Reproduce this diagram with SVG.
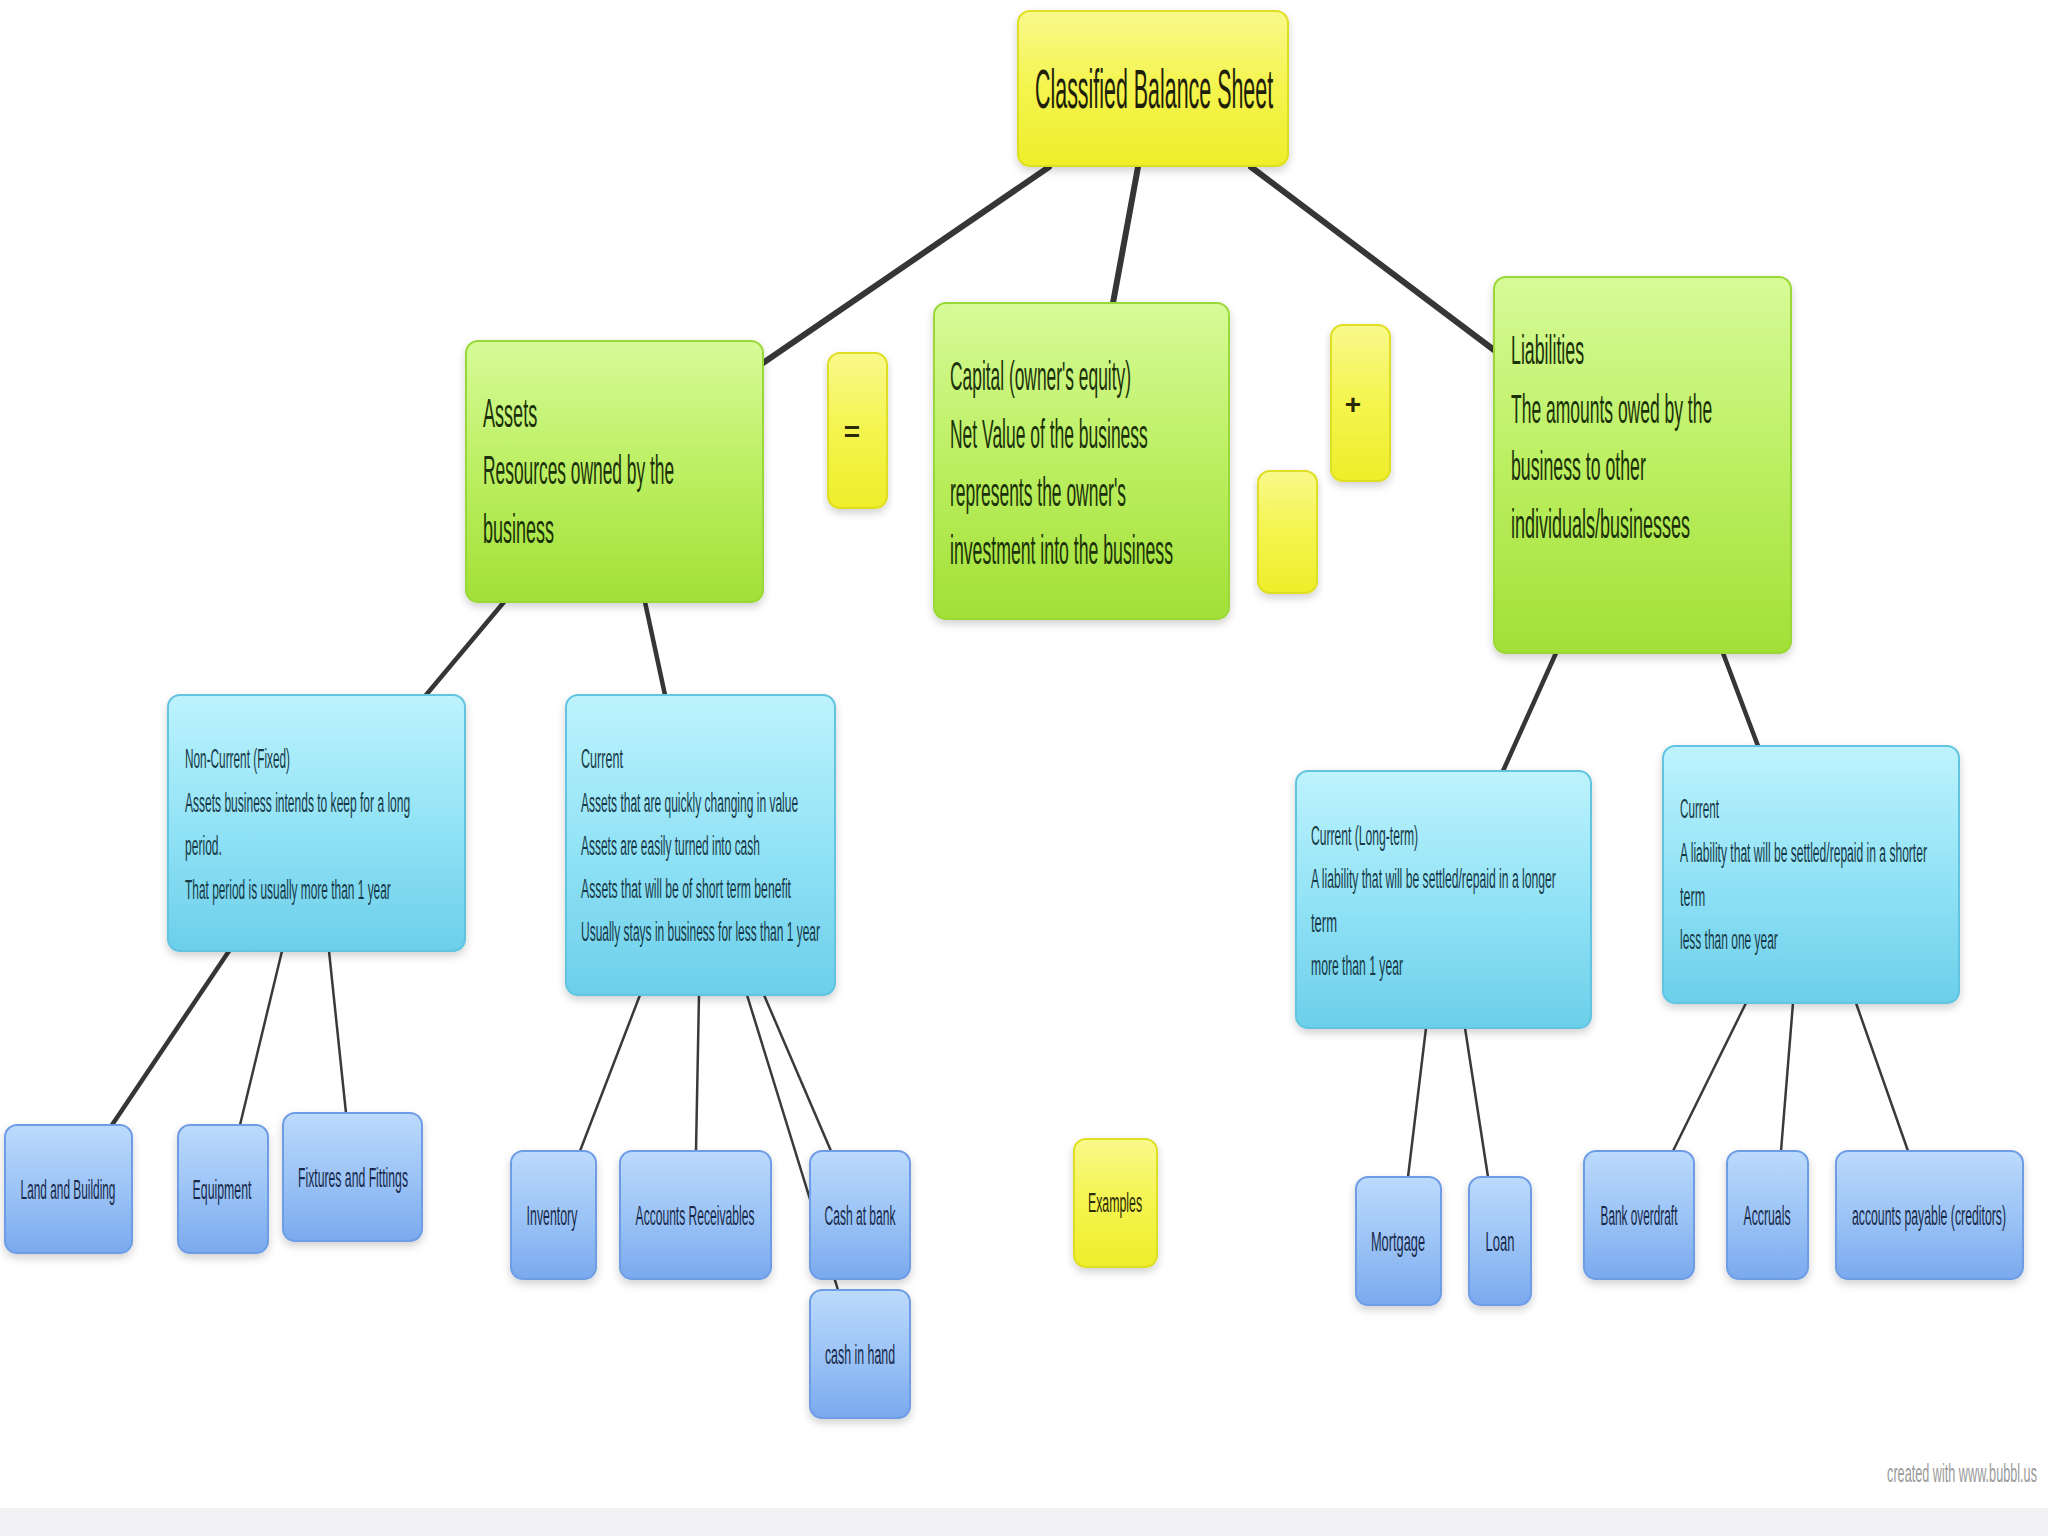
<svg xmlns="http://www.w3.org/2000/svg" width="2048" height="1536" viewBox="0 0 2048 1536">
<defs>
<linearGradient id="gY" x1="0" y1="0" x2="0" y2="1">
<stop offset="0" stop-color="#f9f98c"/><stop offset="0.5" stop-color="#f4f44e"/><stop offset="1" stop-color="#eeee2a"/>
</linearGradient>
<linearGradient id="gG" x1="0" y1="0" x2="0" y2="1">
<stop offset="0" stop-color="#d6fb98"/><stop offset="0.5" stop-color="#bcef62"/><stop offset="1" stop-color="#a2e036"/>
</linearGradient>
<linearGradient id="gC" x1="0" y1="0" x2="0" y2="1">
<stop offset="0" stop-color="#bdf3fd"/><stop offset="0.5" stop-color="#93e3f6"/><stop offset="1" stop-color="#6ccfea"/>
</linearGradient>
<linearGradient id="gB" x1="0" y1="0" x2="0" y2="1">
<stop offset="0" stop-color="#bcdafc"/><stop offset="0.5" stop-color="#9cc4f6"/><stop offset="1" stop-color="#7aa9ee"/>
</linearGradient>
<filter id="sh" x="-10%" y="-10%" width="120%" height="125%">
<feDropShadow dx="0" dy="4" stdDeviation="4" flood-color="#000" flood-opacity="0.18"/>
</filter>
</defs>
<style>
.y{fill:url(#gY);stroke:#dede20;stroke-width:2;filter:url(#sh)}
.g{fill:url(#gG);stroke:#9ad838;stroke-width:2;filter:url(#sh)}
.c{fill:url(#gC);stroke:#62c4e0;stroke-width:2;filter:url(#sh)}
.b{fill:url(#gB);stroke:#6e9de6;stroke-width:2;filter:url(#sh)}
text{font-family:"Liberation Sans",Arial,sans-serif}
.tt{font-size:55px;fill:#1f1f0a}
.tg{font-size:40px;fill:#1b3208}
.tc{font-size:28px;fill:#173a48}
.tb{font-size:28px;fill:#18294a;text-anchor:middle}
.ty{font-size:28px;fill:#2a2a08;text-anchor:middle}
.l1{stroke:#363636;stroke-width:6;stroke-linecap:round;fill:none}
.l2{stroke:#363636;stroke-width:4.5;stroke-linecap:round;fill:none}
.l3{stroke:#3a3a3a;stroke-width:2.5;stroke-linecap:round;fill:none}
</style>
<rect width="2048" height="1536" fill="#ffffff"/>
<rect x="0" y="1508" width="2048" height="28" fill="#f2f2f4"/>

<g id="connectors">
<line class="l1" x1="1049" y1="167" x2="763" y2="363"/>
<line class="l1" x1="1138" y1="167" x2="1113" y2="303"/>
<line class="l1" x1="1251" y1="167" x2="1494" y2="350"/>
<line class="l2" x1="504" y1="602" x2="426" y2="695"/>
<line class="l2" x1="645" y1="602" x2="665" y2="695"/>
<line class="l2" x1="1556" y1="653" x2="1503" y2="771"/>
<line class="l2" x1="1723" y1="653" x2="1758" y2="746"/>
<line class="l2" x1="229" y1="951" x2="112" y2="1125"/>
<line class="l3" x1="282" y1="951" x2="240" y2="1125"/>
<line class="l3" x1="329" y1="951" x2="346" y2="1113"/>
<line class="l3" x1="640" y1="995" x2="580" y2="1151"/>
<line class="l3" x1="699" y1="995" x2="696" y2="1151"/>
<line class="l3" x1="764" y1="995" x2="831" y2="1151"/>
<line class="l3" x1="747" y1="995" x2="838" y2="1290"/>
<line class="l3" x1="1426" y1="1028" x2="1408" y2="1177"/>
<line class="l3" x1="1465" y1="1028" x2="1488" y2="1177"/>
<line class="l3" x1="1746" y1="1003" x2="1673" y2="1151"/>
<line class="l3" x1="1793" y1="1003" x2="1781" y2="1151"/>
<line class="l3" x1="1856" y1="1003" x2="1908" y2="1151"/>
</g>

<g id="title">
<rect class="y" x="1018" y="11" width="270" height="155" rx="12"/>
<text class="tt" transform="matrix(0.42 0 0 1 1035 108)" textLength="567" lengthAdjust="spacingAndGlyphs">Classified Balance Sheet</text>
</g>

<g id="assets">
<rect class="g" x="466" y="341" width="297" height="261" rx="12"/>
<text class="tg" transform="matrix(0.42 0 0 1 483 427)" textLength="129" lengthAdjust="spacingAndGlyphs">Assets</text>
<text class="tg" transform="matrix(0.42 0 0 1 483 484)" textLength="455" lengthAdjust="spacingAndGlyphs">Resources owned by the</text>
<text class="tg" transform="matrix(0.42 0 0 1 483 543)" textLength="169" lengthAdjust="spacingAndGlyphs">business</text>
</g>

<g id="equals">
<rect class="y" x="828" y="353" width="59" height="155" rx="12"/>
<text class="ty" x="852" y="441" font-weight="bold">=</text>
</g>

<g id="capital">
<rect class="g" x="934" y="303" width="295" height="316" rx="12"/>
<text class="tg" transform="matrix(0.42 0 0 1 950 390)" textLength="431" lengthAdjust="spacingAndGlyphs">Capital (owner's equity)</text>
<text class="tg" transform="matrix(0.42 0 0 1 950 448)" textLength="471" lengthAdjust="spacingAndGlyphs">Net Value of the business</text>
<text class="tg" transform="matrix(0.42 0 0 1 950 506)" textLength="419" lengthAdjust="spacingAndGlyphs">represents the owner's</text>
<text class="tg" transform="matrix(0.42 0 0 1 950 564)" textLength="531" lengthAdjust="spacingAndGlyphs">investment into the business</text>
</g>

<g id="plus">
<rect class="y" x="1331" y="325" width="59" height="156" rx="12"/>
<text class="ty" x="1353" y="414" font-weight="bold">+</text>
</g>

<g id="blank">
<rect class="y" x="1258" y="471" width="59" height="122" rx="12"/>
</g>

<g id="liabilities">
<rect class="g" x="1494" y="277" width="297" height="376" rx="12"/>
<text class="tg" transform="matrix(0.42 0 0 1 1511 364)" textLength="174" lengthAdjust="spacingAndGlyphs">Liabilities</text>
<text class="tg" transform="matrix(0.42 0 0 1 1511 423)" textLength="479" lengthAdjust="spacingAndGlyphs">The amounts owed by the</text>
<text class="tg" transform="matrix(0.42 0 0 1 1511 480)" textLength="321" lengthAdjust="spacingAndGlyphs">business to other</text>
<text class="tg" transform="matrix(0.42 0 0 1 1511 538)" textLength="426" lengthAdjust="spacingAndGlyphs">individuals/businesses</text>
</g>

<g id="noncurrent">
<rect class="c" x="168" y="695" width="297" height="256" rx="12"/>
<text class="tc" transform="matrix(0.42 0 0 1 185 768)" textLength="250" lengthAdjust="spacingAndGlyphs">Non-Current (Fixed)</text>
<text class="tc" transform="matrix(0.42 0 0 1 185 812)" textLength="536" lengthAdjust="spacingAndGlyphs">Assets business intends to keep for a long</text>
<text class="tc" transform="matrix(0.42 0 0 1 185 855)" textLength="88" lengthAdjust="spacingAndGlyphs">period.</text>
<text class="tc" transform="matrix(0.42 0 0 1 185 899)" textLength="490" lengthAdjust="spacingAndGlyphs">That period is usually more than 1 year</text>
</g>

<g id="current-assets">
<rect class="c" x="566" y="695" width="269" height="300" rx="12"/>
<text class="tc" transform="matrix(0.42 0 0 1 581 768)" textLength="100" lengthAdjust="spacingAndGlyphs">Current</text>
<text class="tc" transform="matrix(0.42 0 0 1 581 812)" textLength="517" lengthAdjust="spacingAndGlyphs">Assets that are quickly changing in value</text>
<text class="tc" transform="matrix(0.42 0 0 1 581 855)" textLength="426" lengthAdjust="spacingAndGlyphs">Assets are easily turned into cash</text>
<text class="tc" transform="matrix(0.42 0 0 1 581 898)" textLength="500" lengthAdjust="spacingAndGlyphs">Assets that will be of short term benefit</text>
<text class="tc" transform="matrix(0.42 0 0 1 581 941)" textLength="569" lengthAdjust="spacingAndGlyphs">Usually stays in business for less than 1 year</text>
</g>

<g id="current-longterm">
<rect class="c" x="1296" y="771" width="295" height="257" rx="12"/>
<text class="tc" transform="matrix(0.42 0 0 1 1311 845)" textLength="255" lengthAdjust="spacingAndGlyphs">Current (Long-term)</text>
<text class="tc" transform="matrix(0.42 0 0 1 1311 888)" textLength="583" lengthAdjust="spacingAndGlyphs">A liability that will be settled/repaid in a longer</text>
<text class="tc" transform="matrix(0.42 0 0 1 1311 932)" textLength="62" lengthAdjust="spacingAndGlyphs">term</text>
<text class="tc" transform="matrix(0.42 0 0 1 1311 975)" textLength="219" lengthAdjust="spacingAndGlyphs">more than 1 year</text>
</g>

<g id="current-liab">
<rect class="c" x="1663" y="746" width="296" height="257" rx="12"/>
<text class="tc" transform="matrix(0.42 0 0 1 1680 818)" textLength="93" lengthAdjust="spacingAndGlyphs">Current</text>
<text class="tc" transform="matrix(0.42 0 0 1 1680 862)" textLength="588" lengthAdjust="spacingAndGlyphs">A liability that will be settled/repaid in a shorter</text>
<text class="tc" transform="matrix(0.42 0 0 1 1680 906)" textLength="60" lengthAdjust="spacingAndGlyphs">term</text>
<text class="tc" transform="matrix(0.42 0 0 1 1680 949)" textLength="233" lengthAdjust="spacingAndGlyphs">less than one year</text>
</g>

<g id="land">
<rect class="b" x="5" y="1125" width="127" height="128" rx="12"/>
<text class="tb" transform="matrix(0.42 0 0 1 68 1199)" textLength="226" lengthAdjust="spacingAndGlyphs">Land and Building</text>
</g>
<g id="equipment">
<rect class="b" x="178" y="1125" width="90" height="128" rx="12"/>
<text class="tb" transform="matrix(0.42 0 0 1 222 1199)" textLength="140" lengthAdjust="spacingAndGlyphs">Equipment</text>
</g>
<g id="fixtures">
<rect class="b" x="283" y="1113" width="139" height="128" rx="12"/>
<text class="tb" transform="matrix(0.42 0 0 1 353 1187)" textLength="262" lengthAdjust="spacingAndGlyphs">Fixtures and Fittings</text>
</g>
<g id="inventory">
<rect class="b" x="511" y="1151" width="85" height="128" rx="12"/>
<text class="tb" transform="matrix(0.42 0 0 1 552 1225)" textLength="121" lengthAdjust="spacingAndGlyphs">Inventory</text>
</g>
<g id="receivables">
<rect class="b" x="620" y="1151" width="151" height="128" rx="12"/>
<text class="tb" transform="matrix(0.42 0 0 1 695 1225)" textLength="283" lengthAdjust="spacingAndGlyphs">Accounts Receivables</text>
</g>
<g id="cashbank">
<rect class="b" x="810" y="1151" width="100" height="128" rx="12"/>
<text class="tb" transform="matrix(0.42 0 0 1 860 1225)" textLength="169" lengthAdjust="spacingAndGlyphs">Cash at bank</text>
</g>
<g id="cashhand">
<rect class="b" x="810" y="1290" width="100" height="128" rx="12"/>
<text class="tb" transform="matrix(0.42 0 0 1 860 1364)" textLength="167" lengthAdjust="spacingAndGlyphs">cash in hand</text>
</g>
<g id="examples">
<rect class="y" x="1074" y="1139" width="83" height="128" rx="12"/>
<text class="ty" transform="matrix(0.42 0 0 1 1115 1212)" textLength="129" lengthAdjust="spacingAndGlyphs">Examples</text>
</g>
<g id="mortgage">
<rect class="b" x="1356" y="1177" width="85" height="128" rx="12"/>
<text class="tb" transform="matrix(0.42 0 0 1 1398 1251)" textLength="129" lengthAdjust="spacingAndGlyphs">Mortgage</text>
</g>
<g id="loan">
<rect class="b" x="1469" y="1177" width="62" height="128" rx="12"/>
<text class="tb" transform="matrix(0.42 0 0 1 1500 1251)" textLength="69" lengthAdjust="spacingAndGlyphs">Loan</text>
</g>
<g id="overdraft">
<rect class="b" x="1584" y="1151" width="110" height="128" rx="12"/>
<text class="tb" transform="matrix(0.42 0 0 1 1639 1225)" textLength="183" lengthAdjust="spacingAndGlyphs">Bank overdraft</text>
</g>
<g id="accruals">
<rect class="b" x="1727" y="1151" width="81" height="128" rx="12"/>
<text class="tb" transform="matrix(0.42 0 0 1 1767 1225)" textLength="112" lengthAdjust="spacingAndGlyphs">Accruals</text>
</g>
<g id="payable">
<rect class="b" x="1836" y="1151" width="187" height="128" rx="12"/>
<text class="tb" transform="matrix(0.42 0 0 1 1929 1225)" textLength="367" lengthAdjust="spacingAndGlyphs">accounts payable (creditors)</text>
</g>

<text transform="matrix(0.42 0 0 1 2037 1482)" font-size="26" fill="#9a9a9a" text-anchor="end" textLength="357" lengthAdjust="spacingAndGlyphs">created with www.bubbl.us</text>
</svg>
